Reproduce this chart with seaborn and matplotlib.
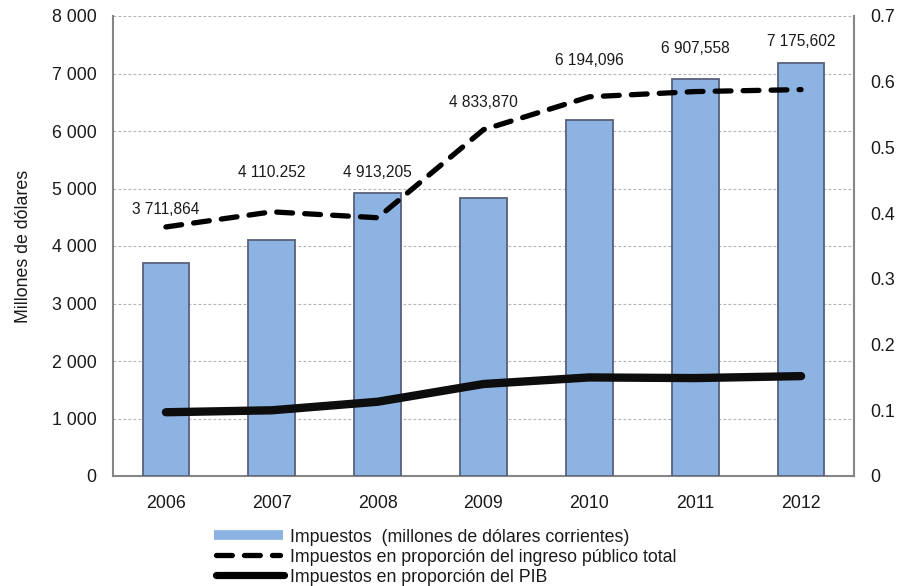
import matplotlib
matplotlib.use("Agg")
import matplotlib.pyplot as plt
from matplotlib.lines import Line2D
import seaborn as sns
import pandas as pd

# Datos
years = ["2006", "2007", "2008", "2009", "2010", "2011", "2012"]
impuestos = [3711.864, 4110.252, 4913.205, 4833.870, 6194.096, 6907.558, 7175.602]
impuestos_txt = ["3 711,864", "4 110.252", "4 913,205", "4 833,870",
                 "6 194,096", "6 907,558", "7 175,602"]
prop_ingreso = [0.379, 0.402, 0.393, 0.527, 0.577, 0.585, 0.588]
prop_pib = [0.097, 0.100, 0.113, 0.140, 0.150, 0.149, 0.152]

# Altura (eje izquierdo) donde va cada etiqueta de valor
label_y = [4640, 5270, 5270, 6500, 7230, 7430, 7550]

left_ticks = [0, 1000, 2000, 3000, 4000, 5000, 6000, 7000, 8000]
left_ticklabels = ["0", "1 000", "2 000", "3 000", "4 000", "5 000", "6 000", "7 000", "8 000"]
right_ticks = [0, 0.1, 0.2, 0.3, 0.4, 0.5, 0.6, 0.7]
right_ticklabels = ["0", "0.1", "0.2", "0.3", "0.4", "0.5", "0.6", "0.7"]

legend_labels = ["Impuestos  (millones de dólares corrientes)",
                 "Impuestos en proporción del ingreso público total",
                 "Impuestos en proporción del PIB"]

sns.set_theme(style="white")
plt.rcParams["font.family"] = ["Liberation Sans", "DejaVu Sans"]

BAR = "#8db3e2"
GRID = "#b4b4b4"
SPINE = "#868686"
TXT = "#1a1a1a"
FS = 12.8
DASH = (0, (3.0, 2.3))

df = pd.DataFrame({"year": years, "impuestos": impuestos,
                   "ingreso": prop_ingreso, "pib": prop_pib})

W, H = 898, 586
fig = plt.figure(figsize=(W / 100, H / 100), dpi=100)
ax = fig.add_axes([113 / W, 110 / H, 741 / W, 460 / H])

sns.barplot(data=df, x="year", y="impuestos", ax=ax, color=BAR, width=0.44,
            edgecolor="#58607a", linewidth=1.3, saturation=1, zorder=3)

ax.set_xlim(-0.5, 6.5)
ax.set_ylim(0, 8000)
ax.set_yticks(left_ticks)
ax.set_yticklabels(left_ticklabels)
ax.yaxis.grid(True, color=GRID, linestyle=(0, (2.5, 2)), linewidth=0.8, zorder=0)
ax.xaxis.grid(False)
ax.set_axisbelow(True)
ax.set_xlabel("")
ax.set_ylabel("Millones de dólares", fontsize=FS, color=TXT, labelpad=14)
ax.tick_params(axis="y", length=0, labelsize=FS, colors=TXT, pad=12)
ax.tick_params(axis="x", length=0, labelsize=FS, colors=TXT, pad=14)

for s in ["left", "bottom"]:
    ax.spines[s].set_color(SPINE)
    ax.spines[s].set_linewidth(1.5)
ax.spines["top"].set_visible(False)
ax.spines["right"].set_visible(False)

for i, (t, y) in enumerate(zip(impuestos_txt, label_y)):
    ax.text(i, y, t, ha="center", va="center", fontsize=11.2, color=TXT, zorder=5)

# Eje derecho: proporciones
ax2 = ax.twinx()
ax2.set_ylim(0, 0.7)
ax2.set_yticks(right_ticks)
ax2.set_yticklabels(right_ticklabels)
ax2.tick_params(axis="y", length=0, labelsize=FS, colors=TXT, pad=12)
for s in ["left", "top", "bottom"]:
    ax2.spines[s].set_visible(False)
ax2.spines["right"].set_color(SPINE)
ax2.spines["right"].set_linewidth(1.5)
ax2.grid(False)

xpos = list(range(len(years)))
sns.lineplot(x=xpos, y=prop_ingreso, ax=ax2, color="black", linewidth=3.8,
             zorder=6)
ax2.lines[-1].set_linestyle(DASH)
ax2.lines[-1].set_dash_capstyle("round")
ax2.lines[-1].set_dash_joinstyle("round")
sns.lineplot(x=xpos, y=prop_pib, ax=ax2, color="#0d0d0d", linewidth=6,
             zorder=6)
ax2.lines[-1].set_solid_capstyle("round")
ax2.lines[-1].set_solid_joinstyle("round")
ax2.set_xlim(-0.5, 6.5)

# Leyenda bajo el gráfico
handles = [
    dict(color=BAR, linewidth=7, solid_capstyle="butt", x0=214, x1=283),
    dict(color="black", linewidth=3.8, linestyle=DASH, dash_capstyle="round",
         x0=216, x1=280),
    dict(color="black", linewidth=5.2, solid_capstyle="round", x0=216, x1=284),
]
rows = [535, 555, 575]
for h, y, lab in zip(handles, rows, legend_labels):
    x0, x1 = h.pop("x0"), h.pop("x1")
    fig.add_artist(Line2D([x0 / W, x1 / W], [1 - y / H, 1 - y / H],
                          transform=fig.transFigure, **h))
    fig.text(290 / W, 1 - y / H, lab, ha="left", va="center_baseline",
             fontsize=FS, color=TXT)

fig.savefig("out.png", dpi=100)
